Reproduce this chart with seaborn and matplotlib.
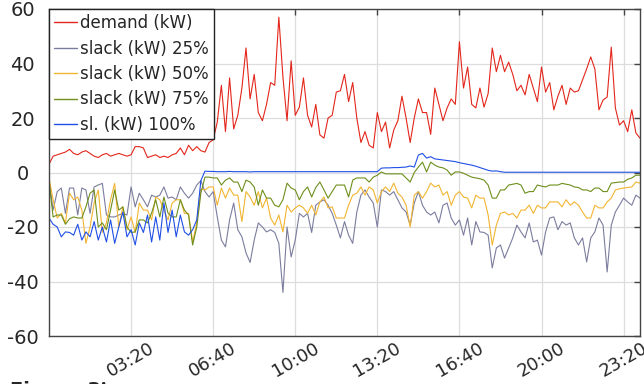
import numpy as np
import pandas as pd
import matplotlib
matplotlib.use("Agg")
import matplotlib.pyplot as plt
import seaborn as sns

# time in minutes (10-minute steps over one day)
minutes = list(range(0, 1450, 10))

demand = [3, 6, 6.5, 7, 7.5, 8.5, 7, 6.5, 7.5, 8, 7, 6, 5.5, 6.5, 7, 6, 6.5, 7, 6.5, 6,
          6.5, 9.5, 9.5, 9, 5.5, 6, 6.5, 5.5, 6, 5.5, 6.5, 7, 9, 6.5, 10, 8, 9.5, 8, 7.5, 11,
          12, 18.5, 32, 15, 34.7, 16, 21, 31, 45.7, 27, 36, 22, 19, 25, 33, 32, 57, 35, 19, 41,
          21, 24, 34.7, 21, 16.7, 25, 13.8, 12.6, 20, 21, 29.5, 30, 36, 26, 33, 20, 11, 15, 10, 9,
          22, 15, 18.5, 9, 15.6, 19, 28, 20, 11, 20, 27, 22, 22, 14, 31, 25, 19, 23.7, 27, 25,
          48, 31, 38.7, 25, 23.7, 31, 24, 29, 45.7, 37, 43, 37, 40.5, 36, 30, 32, 28.5, 36, 31, 26,
          38.7, 29.5, 33, 23, 28, 32, 25, 31, 29.5, 30, 34, 38, 42.4, 38, 23, 26.6, 27.7, 46, 23.7, 17.4,
          19, 15, 23, 14.5, 12.6]

slack25 = [-2.8, -13.8, -7, -5.7, -15, -5.7, -5.7, -15.6, -5.7, -6.4, -15, -5.3, -4.6, -4, -15.6, -16.3, -16.3, -15.6, -15, -15.6,
           -5.3, -12.6, -7.6, -10, -12.6, -8.3, -9, -8.3, -5.3, -9.4, -9, -10, -5.3, -7.6, -9.4, -7.6, -4.6, -3, -7, -9,
           -7, -16.3, -24.8, -27.3, -17.4, -11.2, -21, -23.6, -29.5, -33, -24.8, -18.5, -20, -21.8, -21, -22, -26, -44, -20, -31,
           -24.8, -15, -16.3, -15, -22, -12, -10.8, -10, -12, -15, -19.3, -24, -18, -23, -26, -14.5, -8.3, -6.4, -9, -11.2,
           -20, -6.4, -7, -8.3, -7, -10, -13, -14.5, -19.3, -11.2, -7, -12, -14.5, -15.6, -14.5, -18.5, -12, -11.2, -16.7, -19.3,
           -17.4, -23, -16.7, -26.6, -18, -21.8, -22, -23, -35, -27.7, -26.6, -31.4, -27.7, -24, -19.3, -21.8, -24, -18.5, -25.5, -24.8,
           -30.3, -21.8, -16.7, -16.3, -21, -18, -19.3, -18.5, -24, -26.6, -24, -32.8, -24, -21.8, -16.7, -19.3, -36.5, -19.3, -14.5, -12,
           -9.4, -10.8, -12, -8.3, -9.4]

slack50 = [-2, -10, -16.7, -15, -18.5, -7.6, -10, -9, -13.8, -26, -20, -11.2, -6.4, -22, -18.5, -10, -4, -20, -12.6, -21,
           -16.3, -22, -11.2, -13.8, -13.8, -17.4, -9, -10, -13.8, -17.4, -11.2, -10, -10, -15, -15, -25.5, -18.5, -6, -6.4, -5.3,
           -5.3, -12, -5.7, -9.4, -5.7, -8.3, -8.3, -18, -7, -9, -12, -7, -13, -9.4, -16.7, -19.3, -15.6, -21.8, -12, -14.5,
           -13, -12, -13, -15, -12, -15.6, -10.8, -9, -13, -12.6, -16.7, -16.7, -16.7, -12, -8.3, -7.6, -5.3, -8.3, -5.3, -6.4,
           -11.2, -7, -5.3, -7, -3.9, -7.6, -9, -12, -20, -8.3, -7, -9.4, -7, -3.9, -5.3, -4.6, -8.3, -7, -12, -8.3,
           -7, -9, -9.4, -13, -8.3, -9.4, -9.4, -15.6, -26.6, -19.3, -15, -14.5, -15.6, -15, -16.7, -13.8, -13.8, -12, -15, -12,
           -13, -13, -10.8, -10.8, -10.8, -12.6, -10, -12, -10.8, -12, -14.5, -16.7, -16.7, -12, -13, -13, -10.8, -9.4, -6.4, -6,
           -5.7, -5.5, -5.3, -3.5, -3.9]

slack75 = [-2.8, -16.3, -15.6, -15.6, -19, -17, -16.3, -16.7, -16.7, -12.6, -7.6, -6.4, -20, -18.5, -21, -13.8, -6.4, -13.8, -12.6, -20,
           -22, -21.8, -17.4, -17.4, -18.5, -14.9, -10, -16.3, -9, -14.9, -16.3, -16.3, -10, -13.8, -15.6, -26.6, -20, -7.6, -1.7, -1.7,
           -2, -2, -4.6, -2.8, -2, -3.5, -3.5, -7, -2.8, -3.5, -5.3, -12, -6.4, -9.4, -9.4, -12, -12.6, -10, -3.9, -5.7,
           -6.4, -10, -7, -5.3, -9, -5.5, -3.5, -6.4, -9.4, -7, -4.6, -4.6, -4.6, -9, -2.8, -2, -2, -2, -3.5, -1.7,
           -1, 0.2, -0.5, -0.5, -0.5, -0.5, -0.5, -2, -3.5, 0, 2, 3.8, 0.2, 3.8, 2.7, 2.0, 1.7, 0.9, -1, 0.2,
           0.2, -0.3, -1, -1.7, -2, -2.3, -2.8, -4.6, -9.4, -9.4, -6.4, -6.4, -4.6, -4.3, -4, -4.6, -7.6, -7, -7, -4.6,
           -5, -5.3, -4.6, -4.6, -4.6, -4, -4.3, -4.6, -5.3, -5.5, -6.4, -6.4, -7, -5.7, -5.7, -7, -7, -3.9, -3.7, -3.5,
           -3.5, -2.5, -2, -1, -1]

slack100 = [-16.7, -19, -20, -23.6, -21.8, -22, -23, -19, -24.8, -21.8, -23.6, -18, -24.8, -20, -25.5, -17.4, -26, -20, -14.5, -23.6,
            -21, -26.6, -18.5, -22, -15.6, -25.5, -16.3, -24.8, -11.2, -22, -13.8, -23.6, -15.6, -21.8, -23, -21, -17.4, -3, 0.5, 0.4,
            0.4, 0.3, 0.3, 0.3, 0.4, 0.3, 0.3, 0.3, 0.3, 0.2, 0.3, 0.3, 0.3, 0.3, 0.3, 0.3, 0.3, 0.3, 0.3, 0.3,
            0.3, 0.3, 0.3, 0.3, 0.3, 0.3, 0.3, 0.3, 0.3, 0.3, 0.3, 0.3, 0.3, 0.3, 0.3, 0.3, 0.3, 0.3, 0.3, 0.3,
            0.3, 1.6, 1.7, 1.7, 1.8, 1.8, 1.9, 2.0, 2.4, 2.0, 6.4, 7, 5.3, 5.8, 5, 4.8, 4.6, 4.4, 4.2, 4.0,
            3.6, 3.3, 3.0, 2.7, 2.3, 1.8, 1.3, 0.8, 0.5, 0.6, 0.3, 0.1, 0.1, 0.1, 0.1, 0.1, 0.1, 0.1, 0.1, 0.1,
            0.1, 0.1, 0.1, 0.1, 0.1, 0.1, 0.1, 0.1, 0.1, 0.1, 0.1, 0.1, 0.1, 0.1, 0.1, 0.1, 0.1, 0.1, 0.1, 0.1,
            0.1, 0.1, 0.1, 0.1, 0.1]

labels = ["demand (kW)", "slack (kW) 25%", "slack (kW) 50%", "slack (kW) 75%", "sl. (kW) 100%"]
colors = ["#e3261b", "#7b7d9e", "#f2b531", "#6e8f1c", "#1f4fe6"]
xticks = [200, 400, 600, 800, 1000, 1200, 1400]
xtick_labels = ["03:20", "06:40", "10:00", "13:20", "16:40", "20:00", "23:20"]
yticks = [-60, -40, -20, 0, 20, 40, 60]

sns.set_style("white")
plt.rcParams["font.family"] = ["DejaVu Sans"]
plt.rcParams["axes.unicode_minus"] = False

fig = plt.figure(figsize=(6.44, 3.84), dpi=100)
ax = fig.add_axes([49 / 644, 1 - 336 / 384, 591 / 644, 327 / 384])

series = [demand, slack25, slack50, slack75, slack100]
for lab, col, vals in zip(labels, colors, series):
    df = pd.DataFrame({"t": minutes, "v": vals})
    sns.lineplot(data=df, x="t", y="v", color=col, linewidth=0.8, label=lab, ax=ax)

ax.set_xlim(0, 1440)
ax.set_ylim(-60, 60)
ax.set_xticks(xticks)
ax.set_xticklabels(xtick_labels, rotation=30, ha="center", fontsize=13)
ax.set_yticks(yticks)
ax.set_yticklabels([str(v) for v in yticks], fontsize=14, ha="center")
ax.set_xlabel("")
ax.set_ylabel("")
ax.grid(True, color="#dddddd", linewidth=0.9)
ax.set_axisbelow(True)
for s in ax.spines.values():
    s.set_color("#444444")
    s.set_linewidth(1.0)
    s.set_visible(True)
ax.tick_params(axis="both", direction="in", length=4, width=1, color="#444444",
               top=True, right=True)
ax.tick_params(axis="x", pad=2)
ax.tick_params(axis="y", pad=19)

leg = ax.legend(loc="upper left", bbox_to_anchor=(0, 1), borderaxespad=0,
                fontsize=12, handlelength=1.4, handletextpad=0.15, labelspacing=0.45,
                borderpad=0.3, fancybox=False, framealpha=1, edgecolor="#222222")
leg.get_frame().set_linewidth(1.0)
for line in leg.get_lines():
    line.set_linewidth(1.0)

fig.text(0.016, 0.008, "Figure 3:", fontsize=14, fontweight="bold", va="top", ha="left")
fig.text(0.150, 0.008, "A", fontsize=14, va="top", ha="left")

fig.savefig("out.png", dpi=100)
